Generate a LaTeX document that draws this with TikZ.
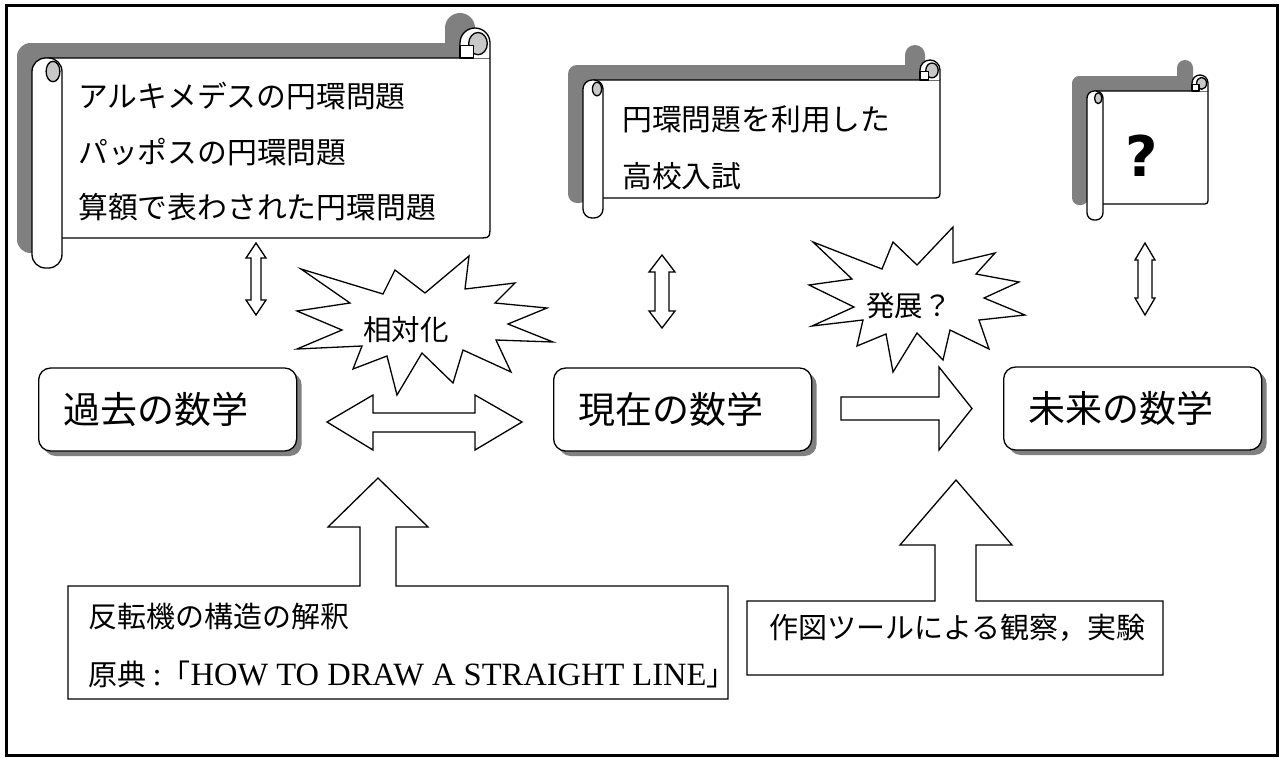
\documentclass[tikz,border=0pt]{standalone}
\usepackage{fontspec}
\setmainfont{Noto Sans CJK JP}
\newfontfamily\cjk{Noto Sans CJK JP}
\newfontfamily\serifl{Liberation Serif}
\newfontfamily\qfont{DejaVu Sans}
\usetikzlibrary{shadows}
\definecolor{shadowgray}{HTML}{808080}
\definecolor{curlgray}{HTML}{C8C8C8}
\tikzset{
  outerframe/.style={draw=black, line width=3pt},
  paper/.style={fill=white, draw=black, line width=1.3pt, line join=round},
  blockarrow/.style={fill=white, draw=black, line width=1.3pt, line join=miter},
  burstline/.style={fill=white, draw=black, line width=1.3pt, line join=miter},
  scrolltext/.style={anchor=west, inner sep=0pt, font=\cjk\fontsize{29.8}{34}\selectfont},
  boxtext/.style={anchor=west, inner sep=0pt, font=\cjk\fontsize{29}{34}\selectfont},
  bursttext/.style={inner sep=0pt, font=\cjk\fontsize{28.5}{34}\selectfont},
  mathbox/.style={anchor=west, draw=black, fill=white, line width=1.3pt, rounded corners=12pt,
    minimum height=83pt, text width=208pt, inner xsep=25pt, inner ysep=0pt, align=left,
    font=\cjk\fontsize{37}{44}\selectfont,
    drop shadow={shadow xshift=5pt, shadow yshift=-5pt, fill=shadowgray, opacity=1}}
}
\newcommand\scrollshape[1]{%
  \path[#1] (\Sxa+\Sh,\Sya+\Sr) -- (\Sxb,\Sya+\Sr) -- (\Sxb,\Syb-\Sr-\Sch) .. controls (\Sxb,\Syb-\Sr) .. (\Sxb-\Sch,\Syb-\Sr) -- (\Sxa+\Sh,\Syb-\Sr) -- cycle;
  \path[#1,rounded corners=\Src pt] (\Sxa,\Sya+\Sr) rectangle (\Sxa+\Sr,\Syb);
  \path[#1] (\Sxb-\Sr,\Sya+\Sr) -- (\Sxb-\Sr,\Sya+\Sh) arc[start angle=180,end angle=360,radius=\Sh] -- (\Sxb,\Sya+\Sr);
}
\newcommand\hscroll[5]{%
  \pgfmathsetmacro\Sxa{#1}\pgfmathsetmacro\Sya{#2}\pgfmathsetmacro\Sxb{#3}\pgfmathsetmacro\Syb{#4}%
  \pgfmathsetmacro\Sr{#5}\pgfmathsetmacro\Sh{#5/2}\pgfmathsetmacro\Sch{0.42*#5}\pgfmathsetmacro\Src{0.45*#5}%
  \begin{scope}[shift={(-15,-15)}]\scrollshape{fill=shadowgray}\end{scope}%
  \scrollshape{paper}%
  \draw[paper, fill=curlgray] (\Sxa+0.7*\Sr,\Sya+1.45*\Sr) ellipse[x radius=0.23*\Sr, y radius=0.34*\Sr];
  \draw[paper, fill=curlgray] (\Sxb-0.4*\Sr,\Sya+0.52*\Sr) ellipse[x radius=0.31*\Sr, y radius=0.37*\Sr];
  \draw[paper] (\Sxb-\Sr,\Sya+0.58*\Sr) rectangle (\Sxb-0.56*\Sr,\Sya+\Sr);
}
\newcommand\vdarrow[6]{%
  \draw[blockarrow] (#1,#2) -- (#1+#4,#2+#6) -- (#1+#5,#2+#6) -- (#1+#5,#3-#6) -- (#1+#4,#3-#6) -- (#1,#3)
    -- (#1-#4,#3-#6) -- (#1-#5,#3-#6) -- (#1-#5,#2+#6) -- (#1-#4,#2+#6) -- cycle;
}
\begin{document}
\begin{tikzpicture}[x=1pt,y=-1pt]
\useasboundingbox (0,0) rectangle (1280,758);
\fill[white] (0,0) rectangle (1280,758);
\draw[outerframe] (6,5) rectangle (1277,755);

% scrolls
\hscroll{32}{28}{490}{268}{30}
\hscroll{583}{60}{940}{218}{20}
\hscroll{1087}{75}{1208}{220}{16}

\node[scrolltext] (s1a) at (78,96) {アルキメデスの円環問題};
\node[scrolltext] (s1b) at (78,152) {パッポスの円環問題};
\node[scrolltext] (s1c) at (78,207) {算額で表わされた円環問題};
\node[scrolltext] (s2a) at (622,119) {円環問題を利用した};
\node[scrolltext] (s2b) at (622,176) {高校入試};
\node[inner sep=0pt, font=\qfont\bfseries\fontsize{56}{60}\selectfont] (q) at (1142,156) {?};

% small vertical double arrows
\vdarrow{256}{243}{315}{10}{5}{15}
\vdarrow{662}{255}{328}{13}{7}{17}
\vdarrow{1145}{243}{315}{10}{7}{17}

% bursts
\draw[burstline] (301,269) -- (383,294) -- (395,270) -- (425,293) -- (469,256) -- (465,289) -- (515,283) -- (495,303) -- (547,308) -- (508,324) -- (553,342) -- (496,340) -- (511,372) -- (463,350) -- (453,383) -- (422,353) -- (397,395) -- (387,356) -- (353,369) -- (362,346) -- (297,349) -- (342,330) -- (297,311) -- (350,303) -- cycle;
\node[bursttext] (rel) at (406,330) {相対化};
\draw[burstline] (813,242) -- (882,269) -- (893,242) -- (917,265) -- (953,227) -- (953,263) -- (995,253) -- (976,274) -- (1019,282) -- (984,298) -- (1025,315) -- (979,320) -- (989,349) -- (950,330) -- (943,360) -- (917,333) -- (893,372) -- (886,334) -- (857,346) -- (863,320) -- (812,326) -- (854,307) -- (809,285) -- (852,279) -- cycle;
\node[bursttext] (dev) at (909,306) {発展？};

% math boxes
\node[mathbox] (past) at (38,409.5) {過去の数学};
\node[mathbox] (now) at (553,409.5) {現在の数学};
\node[mathbox] (fut) at (1003,408.5) {未来の数学};

% block arrows between boxes
\draw[blockarrow] (327,422) -- (373,395) -- (373,413) -- (475,413) -- (475,395) -- (522,422) -- (475,450) -- (475,432) -- (373,432) -- (373,450) -- cycle;
\draw[blockarrow] (841,397) -- (939,397) -- (939,367) -- (972,408.5) -- (939,450) -- (939,420) -- (841,420) -- cycle;

% callouts
\draw[blockarrow] (68,586) -- (360,586) -- (360,527) -- (328,527) -- (378,478) -- (428,527) -- (396,527) -- (396,586) -- (728,586) -- (728,699) -- (68,699) -- cycle;
\draw[blockarrow] (747,601) -- (935,601) -- (935,545) -- (900,545) -- (956,480) -- (1012,545) -- (976,545) -- (976,601) -- (1163,601) -- (1163,675) -- (747,675) -- cycle;

\node[boxtext] (ta) at (88,616) {反転機の構造の解釈};
\node[boxtext] (tb) at (88,674) {原典 {\serifl\fontsize{32.5}{36}\selectfont :}「{\serifl\fontsize{32.5}{36}\selectfont HOW TO DRAW A STRAIGHT LINE}」};
\node[boxtext] (tc) at (769,628) {作図ツールによる観察，実験};
\end{tikzpicture}
\end{document}
